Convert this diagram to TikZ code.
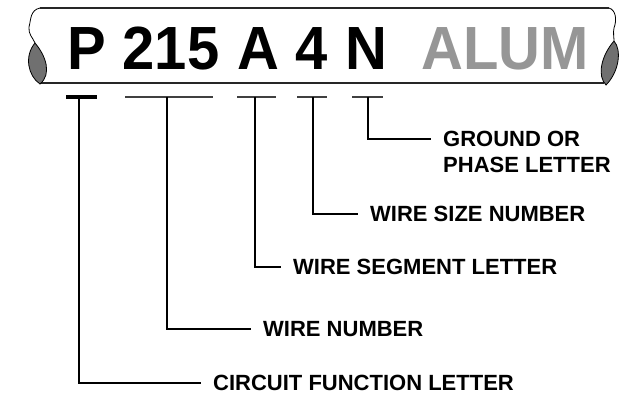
\documentclass[tikz,border=0pt]{standalone}
\usepackage{fontspec}
\setmainfont{Liberation Sans}
\usetikzlibrary{calc}
\definecolor{alumgray}{RGB}{150,150,150}
\definecolor{leafgray}{RGB}{112,112,112}

\begin{document}
\begin{tikzpicture}[x=1pt,y=-1pt,
  code/.style={inner sep=0pt,anchor=base,xscale=0.95,font=\fontsize{61}{61}\selectfont\bfseries},
  lbl/.style={inner sep=0pt,anchor=west,font=\fontsize{22}{24}\selectfont\bfseries},
  lead/.style={line width=2.2pt,shorten >=12pt},
  bar/.style={line width=1.3pt,draw=black!75}]
  \useasboundingbox (0,0) rectangle (619,396);
  % 電線の帯
  \draw[line width=1.4pt,black!85] (40,8) -- (609,8); % 帯の上側の線
  \draw[line width=1.4pt,black!85] (40,83) -- (604,83); % 帯の下側の線
  \draw[line width=0.8pt] (40,8) .. controls (30,10) and (31,20) .. (29,27)
    .. controls (28,34) and (33,38) .. (35,43); % 左端の輪郭
  \draw[line width=0.8pt] (609,8) .. controls (616,10) and (617,20) .. (614,28)
    .. controls (613,33) and (614,37) .. (614,41); % 右端の輪郭
  \draw[line width=0.8pt,fill=leafgray] (35,43) .. controls (24,56) and (28,76) .. (40,84)
    .. controls (52,74) and (46,56) .. (35,43); % 左端の切り口
  \draw[line width=0.8pt,fill=leafgray] (614,41) .. controls (622,50) and (619,72) .. (606,85)
    .. controls (597,76) and (601,56) .. (614,41); % 右端の切り口
  % 電線の記号
  \node[code] (P) at (86.5,70) {P};
  \node[code] (wnum) at (171,70) {215};
  \node[code] (seg) at (258,70) {A};
  \node[code] (size) at (312,70) {4};
  \node[code] (gnd) at (366.5,70) {N};
  \node[code,text=alumgray] (alum) at (505,70) {ALUM};
  % 記号の下の線
  \draw[line width=3.5pt] (66,97) -- (97,97); % P の下の太い線
  \draw[bar] (125,97) -- (213,97);
  \draw[bar] (237,97) -- (276,97);
  \draw[bar] (297,97) -- (327,97);
  \draw[bar] (352,97) -- (383,97);
  \coordinate (pbar) at (79,97);
  \coordinate (wbar) at (167,97);
  \coordinate (sbar) at (255,97);
  \coordinate (zbar) at (313,97);
  \coordinate (nbar) at (368,97);
  % 説明の文字
  \node[lbl] (ground) at (443,139) {GROUND OR};
  \node[lbl] (phase) at (443,165) {PHASE LETTER};
  \node[lbl] (wsize) at (370,214) {WIRE SIZE NUMBER};
  \node[lbl] (wseg) at (293,267) {WIRE SEGMENT LETTER};
  \node[lbl] (wire) at (263,329) {WIRE NUMBER};
  \node[lbl] (circuit) at (213,383) {CIRCUIT FUNCTION LETTER};
  % 引き出し線
  \draw[lead] (nbar) |- (ground);
  \draw[lead] (zbar) |- (wsize);
  \draw[lead] (sbar) |- (wseg);
  \draw[lead] (wbar) |- (wire);
  \draw[lead] (pbar) |- (circuit);
\end{tikzpicture}
\end{document}
